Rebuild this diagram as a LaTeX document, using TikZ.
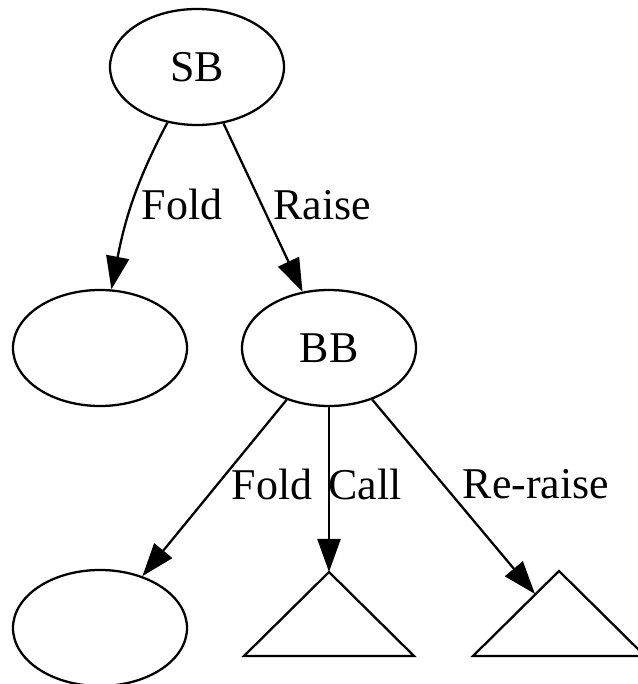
\documentclass[tikz,border=0pt]{standalone}
\usepackage{fontspec}
\setmainfont{Liberation Serif}
\usepackage{tikz}
\usetikzlibrary{shapes.geometric,arrows.meta}
\tikzset{
  ell/.style={draw, ellipse, line width=1.3pt, minimum width=3.48cm, minimum height=2.32cm, inner sep=0pt},
  tri/.style={draw, line width=1.3pt, line join=miter},
  edge/.style={line width=1.3pt, -{Triangle[length=0.66cm, width=0.46cm]}},
  lab/.style={inner sep=0pt},
}

\begin{document}
\begin{tikzpicture}[font=\fontsize{25}{30}\selectfont]
  \useasboundingbox (0,0) rectangle (12.76,13.68);

  \node[ell] (sb) at (3.94,12.34) {SB};
  \node[ell] (f1) at (2.0,6.72) {};
  \node[ell] (bb) at (6.58,6.72) {BB};
  \node[ell] (f2) at (2.0,1.12) {};

  \coordinate (call) at (6.58,2.24);   % apex, call subtree
  \coordinate (rr) at (11.18,2.26);    % apex, re-raise subtree
  \coordinate (rrhit) at (10.70,1.80); % where the re-raise edge meets it

  \draw[tri] (call) -- (4.88,0.56) -- (8.28,0.56) -- cycle;
  \draw[tri] (rr) -- (9.46,0.56) -- (12.9,0.56) -- cycle;

  \draw[edge] (sb) to[out=242,in=79] (f1);
  \draw[edge] (sb) -- (bb);
  \draw[edge] (bb) -- (f2);
  \draw[edge] (bb) -- (call);
  \draw[edge] (bb) -- (rrhit);

  \node[lab] (lfold) at (3.64,9.60) {Fold};
  \node[lab] (lraise) at (6.44,9.58) {Raise};
  \node[lab] (lfold2) at (5.44,4.0) {Fold};
  \node[lab] (lcall) at (7.30,4.0) {Call};
  \node[lab] (lrr) at (10.72,4.0) {Re-raise};
\end{tikzpicture}
\end{document}
